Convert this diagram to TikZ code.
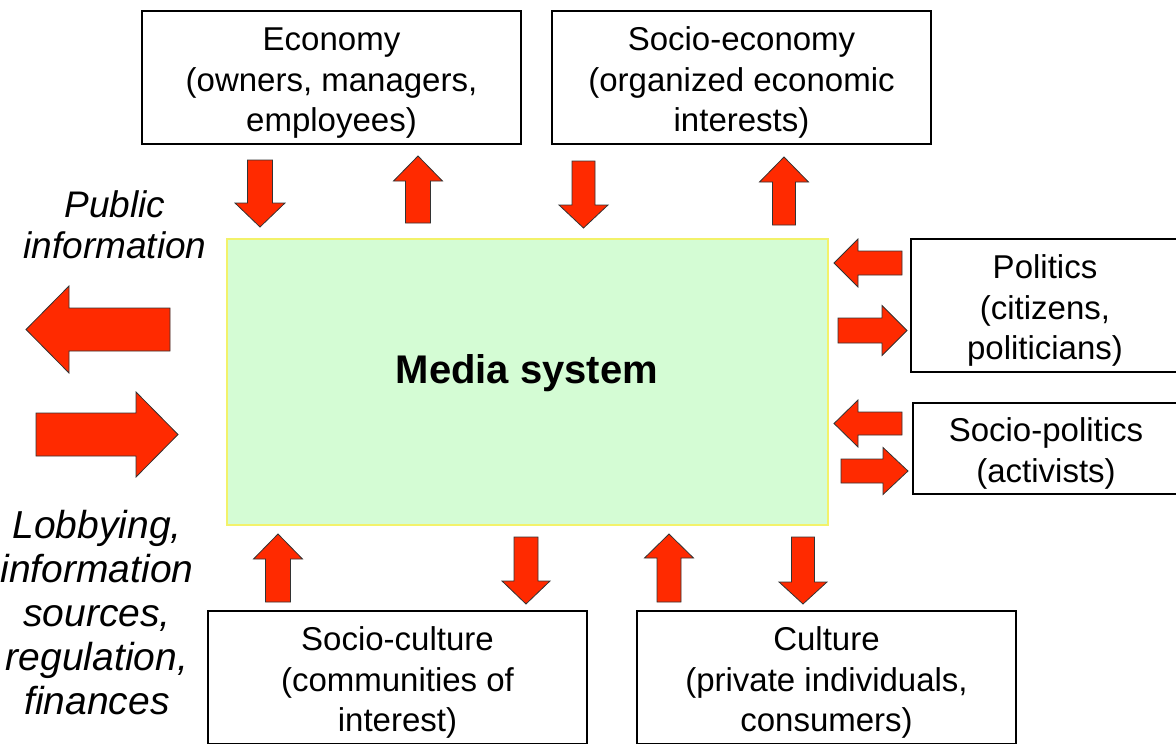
\documentclass[tikz,border=0pt]{standalone}
\usepackage{fontspec}
\setmainfont{Liberation Sans}
\definecolor{arrowred}{HTML}{FF2A00}
\definecolor{mediagreen}{HTML}{D4FCD4}
\definecolor{mediaborder}{HTML}{F2F26A}
\newcommand\topgap{\rule{0pt}{34pt}}
% vertical block arrow: x centre, y tail, y tip, shaft half-width, head half-width, y head base
\newcommand\arrowV[6]{\draw[blockarrow] (#1-#4,#2) -- (#1-#4,#6) -- (#1-#5,#6) -- (#1,#3) -- (#1+#5,#6) -- (#1+#4,#6) -- (#1+#4,#2) -- cycle;}
% horizontal block arrow: y centre, x tail, x tip, shaft half-width, head half-width, x head base
\newcommand\arrowH[6]{\draw[blockarrow] (#2,#1-#4) -- (#6,#1-#4) -- (#6,#1-#5) -- (#3,#1) -- (#6,#1+#5) -- (#6,#1+#4) -- (#2,#1+#4) -- cycle;}
\begin{document}
\begin{tikzpicture}[x=1pt,y=-1pt,
  blockarrow/.style={fill=arrowred, draw=black!80, line width=0.8pt, line join=miter},
  entity/.style={draw=black, line width=2pt, fill=white, minimum width=379pt, minimum height=133pt,
    align=center, inner sep=0pt, font=\fontsize{33}{40.5}\selectfont},
  sidetext/.style={align=center, inner sep=0pt}
]
\useasboundingbox (0,0) rectangle (1176,744);

% media system
\node[draw=mediaborder, fill=mediagreen, line width=1.5pt, minimum width=601pt, minimum height=286pt, inner sep=0pt] (media) at (527.5,382) {};
\node[inner sep=0pt, font=\fontsize{40}{48}\selectfont\bfseries] (medialabel) at (527,373) {Media system};

% surrounding boxes
\node[entity] (economy) at (331.5,77.5) {\topgap Economy\\(owners, managers,\\employees)};
\node[entity] (socioeconomy) at (741.5,77.5) {\topgap Socio-economy\\(organized economic\\interests)};
\node[entity, minimum width=268pt] (politics) at (1045,305.5) {\topgap Politics\\(citizens,\\politicians)};
\node[entity, minimum width=266pt, minimum height=91pt] (sociopolitics) at (1046,448.5) {\topgap Socio-politics\\(activists)};
\node[entity] (socioculture) at (397.5,677.5) {\topgap Socio-culture\\(communities of\\interest)};
\node[entity] (culture) at (826.5,677.5) {\topgap Culture\\(private individuals,\\consumers)};

% side texts
\node[sidetext, font=\fontsize{37}{41}\selectfont\itshape] (public) at (115,225) {Public\\information};
\node[sidetext, font=\fontsize{39}{44}\selectfont\itshape] (lobbying) at (97,613) {Lobbying,\\information\\sources,\\regulation,\\finances};

% top arrows
\arrowV{260}{160}{227}{12.5}{25}{203}
\arrowV{418}{223}{156}{12.5}{24.5}{181}
\arrowV{583.5}{161}{228}{11.5}{24.5}{205}
\arrowV{784}{225}{157}{11.5}{24.5}{182}
% bottom arrows
\arrowV{278}{602}{534}{12.5}{24.5}{559}
\arrowV{526}{537}{604}{12}{24}{581}
\arrowV{669}{602}{534}{12}{24.5}{558}
\arrowV{803}{537}{604}{11.5}{24}{582}
% right arrows
\arrowH{263}{902}{834}{12}{24}{858}
\arrowH{330.5}{838}{907}{12.5}{25}{882}
\arrowH{423.5}{902}{834}{11.5}{23.5}{858}
\arrowH{471}{841}{908}{12}{23.5}{883}
% left big arrows
\arrowH{329.5}{170}{26}{21.5}{43.5}{69}
\arrowH{434.5}{36}{178}{21.5}{42.5}{136}
\end{tikzpicture}
\end{document}
